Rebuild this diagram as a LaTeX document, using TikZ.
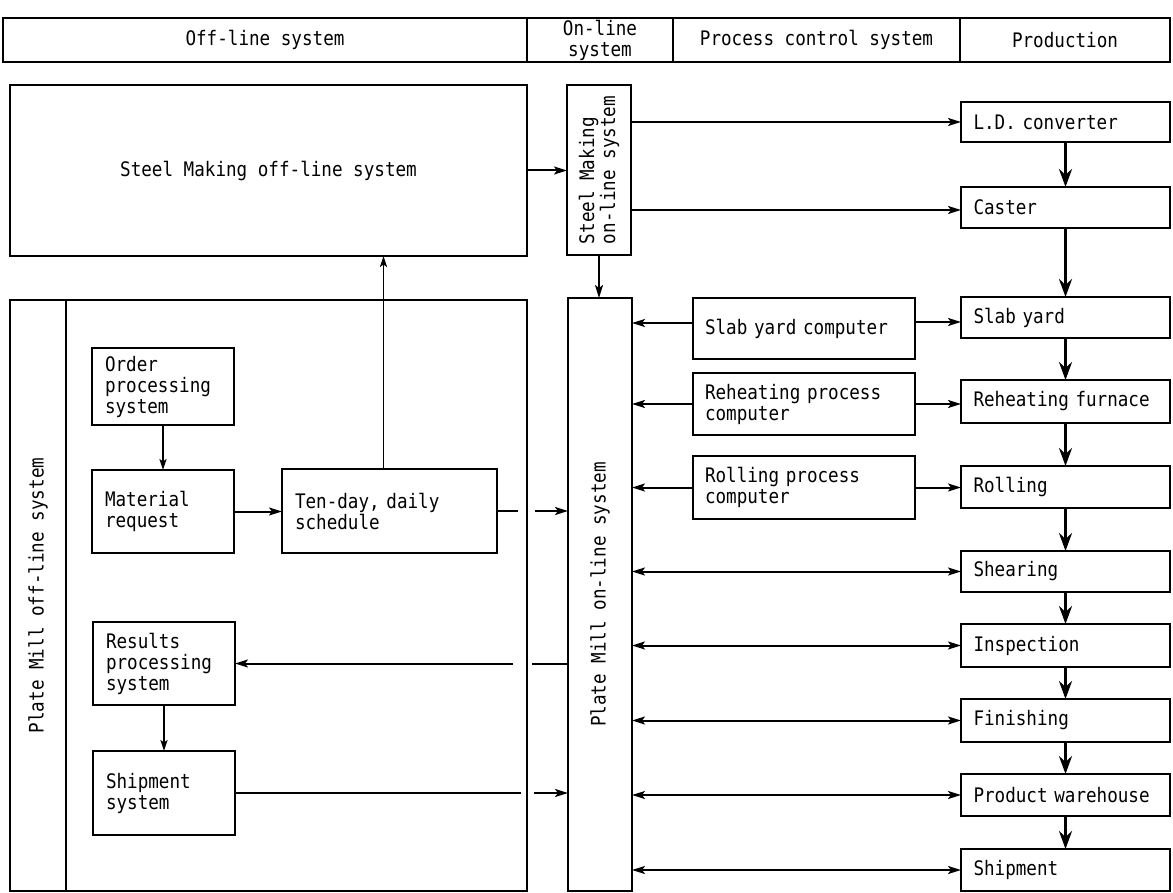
\documentclass[tikz,border=0pt]{standalone}
\usepackage{fontspec}
\setmainfont{DejaVu Sans Mono}[FakeStretch=0.88]
\usetikzlibrary{positioning, arrows.meta}

\tikzset{
  box/.style={draw, line width=1pt, anchor=north west, align=left, inner xsep=6.5pt, inner ysep=0pt, outer sep=0pt},
  hcell/.style={draw, line width=1pt, anchor=north west, align=center, minimum height=22pt, inner sep=0pt, outer sep=0pt},
  ctrl/.style={box, inner xsep=6pt, text width=99pt},
  prod/.style={box, inner xsep=6.25pt, text width=92pt},
  arr/.style={line width=1pt, -{Stealth[length=6.5pt,width=4pt,inset=1.5pt]}},
  darr/.style={line width=1pt, {Stealth[length=6.5pt,width=4pt,inset=1.5pt]}-{Stealth[length=6.5pt,width=4pt,inset=1.5pt]}},
  flow/.style={line width=1.9pt, -{Stealth[length=9pt,width=6.5pt,inset=3pt]}},
  thin/.style={line width=0.8pt, -{Stealth[length=5.5pt,width=3.6pt,inset=1.2pt]}},
  plain/.style={line width=1pt}
}

\begin{document}
\begin{tikzpicture}[x=0.5pt, y=-0.5pt, font=\fontsize{10}{10.5}\selectfont]
\useasboundingbox (0,0) rectangle (1173,893);

% header row
\node[hcell, minimum width=262pt] (hoff) at (3,18) {Off-line system};
\node[hcell, minimum width=73pt, right=0pt of hoff] (hon) {On-line\\system};
\node[hcell, minimum width=143.5pt, right=0pt of hon] (hpcs) {Process control system};
\node[hcell, minimum width=105pt, right=0pt of hpcs] (hprod) {Production};

% steel making
\node[box, minimum width=258.5pt, minimum height=85.5pt] (soff) at (10,85) {Steel Making off-line system};
\node[box, minimum width=32pt, minimum height=85pt] (smon) at (567,85) {};
\node[rotate=90, align=left] (smontext) at (smon.center) {Steel Making\\on-line system};

% plate mill off-line
\node[box, minimum width=28pt, minimum height=295.5pt] (pmlab) at (10,300) {};
\node[rotate=90] (pmlabtext) at (pmlab.center) {Plate Mill off-line system};
\node[box, minimum width=230.5pt, minimum height=295.5pt] (pmoff) at (66,300) {};
\node[box, text width=58pt, minimum height=38.5pt] (order) at (92,348) {Order\\processing\\system};
\node[box, text width=58pt, minimum height=41.5pt] (matreq) at (92,470) {Material\\request};
\node[box, text width=94.5pt, minimum height=42pt] (sched) at (282,469) {Ten-day, daily\\schedule};
\node[box, text width=58pt, minimum height=41.5pt] (results) at (93,622) {Results\\processing\\system};
\node[box, text width=58pt, minimum height=42pt] (shipsys) at (93,751) {Shipment\\system};

% plate mill on-line
\node[box, minimum width=32pt, minimum height=296.5pt] (pmon) at (568,298) {};
\node[rotate=90] (pmontext) at (pmon.center) {Plate Mill on-line system};

% process computers
\node[ctrl, minimum height=30.5pt] (slabc) at (693,298) {Slab yard computer};
\node[ctrl, minimum height=31pt] (reheatc) at (693,373) {Reheating process\\computer};
\node[ctrl, minimum height=31.5pt] (rollc) at (693,456) {Rolling process\\computer};

% production line
\foreach \n/\t/\h/\txt in {ld/102/20/{L.D. converter}, caster/187/20.5/Caster,
  slaby/297/20.5/{Slab yard}, reheatf/380/21.5/{Reheating furnace}, rolling/466/21/Rolling,
  shear/551/20.5/Shearing, insp/624/21.5/Inspection, finish/699/21.5/Finishing,
  prodw/774/21/{Product warehouse}, ship/849/21/Shipment}
  \node[prod, minimum height=\h pt] (\n) at (961,\t) {\txt};
\foreach \a/\b in {ld/caster, caster/slaby, slaby/reheatf, reheatf/rolling, rolling/shear,
  shear/insp, insp/finish, finish/prodw, prodw/ship}
  \draw[flow] (\a.south) -- (\b.north);

% steel making links
\draw[arr] (soff.east) -- (soff.east -| smon.west);
\draw[arr] (ld.west -| smon.east) -- (ld.west);
\draw[arr] ([yshift=-1.25pt]caster.west -| smon.east) -- ([yshift=-1.25pt]caster.west);
\draw[arr] (smon.south) -- (smon.south |- pmon.north);

% off-line links
\draw[thin] (order.south) -- (matreq.north);
\draw[arr] (matreq.east) -- (matreq.east -| sched.west);
\draw[thin] ([xshift=-3pt]sched.north) -- ([xshift=-3pt]sched.north |- soff.south);
\draw[plain, line width=1.3pt] (sched.east) -- ([xshift=-4.5pt]sched.east -| pmoff.east);
\draw[arr] ([xshift=4pt]sched.east -| pmoff.east) -- (sched.east -| pmon.west);
\draw[plain] (results.east -| pmon.west) -- ([xshift=2.5pt]results.east -| pmoff.east);
\draw[arr] ([xshift=-7pt]results.east -| pmoff.east) -- (results.east);
\draw[thin] (results.south) -- (shipsys.north);
\draw[plain] (shipsys.east) -- ([xshift=-3pt]shipsys.east -| pmoff.east);
\draw[arr] ([xshift=3.5pt]shipsys.east -| pmoff.east) -- (shipsys.east -| pmon.west);

% process computer links
\draw[arr] ([yshift=2.75pt]slabc.west) -- ([yshift=2.75pt]slabc.west -| pmon.east);
\draw[arr] ([yshift=-2.25pt]slaby.west -| slabc.east) -- ([yshift=-2.25pt]slaby.west);
\draw[arr] (reheatc.west) -- (reheatc.west -| pmon.east);
\draw[arr] (reheatc.east) -- (reheatc.east -| reheatf.west);
\draw[arr] (rollc.west) -- (rollc.west -| pmon.east);
\draw[arr] (rollc.east) -- (rollc.east -| rolling.west);
\foreach \n in {shear, insp, finish, prodw, ship}
  \draw[darr] (\n.west -| pmon.east) -- (\n.west);

\end{tikzpicture}
\end{document}
